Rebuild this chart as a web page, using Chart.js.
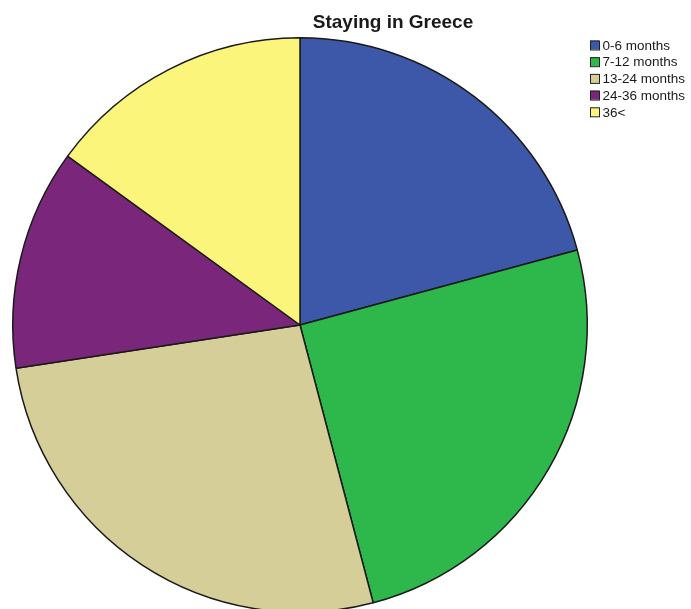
<!DOCTYPE html>
<html>
<head>
<meta charset="utf-8">
<script src="https://cdn.jsdelivr.net/npm/chart.js@4"></script>
<style>
  html, body { margin: 0; padding: 0; background: #fff; overflow: hidden; }
</style>
</head>
<body>
<canvas id="chart" width="691" height="620"></canvas>
<script>
const title = 'Staying in Greece';
const categories = ['0-6 months', '7-12 months', '13-24 months', '24-36 months', '36<'];
const shares = [20.8, 25.1, 26.7, 12.4, 15.0];
const colors = ['#3d58a8', '#2eb84b', '#d5ce99', '#7a267a', '#fbf57b'];

// title + legend drawn by hand, like the SPSS output
const overlay = {
    id: 'overlay',
    afterDraw(chart) {
        const ctx = chart.ctx;
        ctx.save();
        ctx.fillStyle = '#1a1a1a';
        ctx.font = 'bold 19px Arial, "Liberation Sans", sans-serif';
        ctx.textAlign = 'center';
        ctx.textBaseline = 'alphabetic';
        ctx.fillText(title, 393, 28);

        ctx.font = '13.5px Arial, "Liberation Sans", sans-serif';
        ctx.textAlign = 'left';
        ctx.textBaseline = 'middle';
        categories.forEach((label, i) => {
            const y = 40.5 + i * 16.7;
            ctx.fillStyle = colors[i];
            ctx.fillRect(590, y, 9, 9);
            ctx.strokeStyle = '#222';
            ctx.lineWidth = 1;
            ctx.strokeRect(590.5, y + 0.5, 9, 9);
            ctx.fillStyle = '#1a1a1a';
            ctx.fillText(label, 602.5, y + 5.5);
        });
        ctx.restore();
    }
};

new Chart(document.getElementById('chart'), {
    type: 'pie',
    data: {
        labels: categories,
        datasets: [{
            data: shares,
            backgroundColor: colors,
            borderColor: '#1a1a1a',
            borderWidth: 1.5,
            hoverBorderWidth: 1.5
        }]
    },
    options: {
        responsive: false,
        animation: false,
        devicePixelRatio: 1,
        layout: { padding: { left: 12, right: 103, top: 37, bottom: 7 } },
        plugins: {
            legend: { display: false },
            title: { display: false },
            tooltip: { enabled: false }
        }
    },
    plugins: [overlay]
});
</script>
</body>
</html>
